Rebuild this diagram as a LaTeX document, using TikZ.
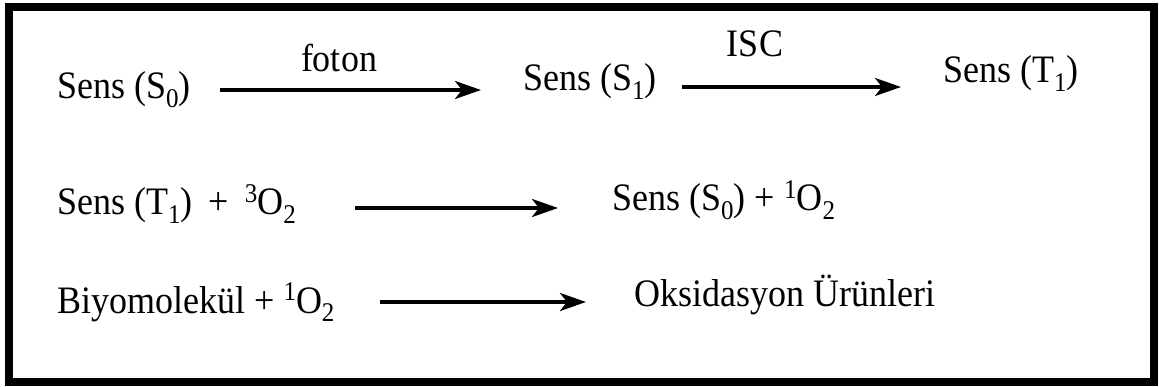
\documentclass[tikz,border=0pt]{standalone}
\usepackage{graphicx}
\usepackage{fontspec}
\setmainfont{Liberation Serif}
\usetikzlibrary{arrows.meta}
\newcommand\sbs[1]{\raisebox{-0.22em}{\fontsize{25}{25}\selectfont #1}}
\newcommand\sps[1]{\raisebox{0.32em}{\fontsize{25}{25}\selectfont #1}}
\newcommand\tx[1]{\scalebox{1}[1.08]{#1}}
\begin{document}
\begin{tikzpicture}[x=1pt,y=-1pt,
  txt/.style={inner sep=0pt,anchor=base west,font=\fontsize{36}{40}\selectfont},
  lbl/.style={inner sep=0pt,anchor=base,font=\fontsize{36}{40}\selectfont},
  arr/.style={line width=3.6pt,-{Stealth[length=26pt,width=18pt,inset=7pt]}}]
\useasboundingbox (0,0) rectangle (1159,387);
\fill[white] (0,0) rectangle (1159,387);
\draw[line width=8pt] (9,7) rectangle (1154,382);
% row 1
\node[txt] (s0) at (57,99) {\tx{Sens (S\sbs{0})}};
\node[txt] (s1) at (523,91) {\tx{Sens (S\sbs{1})}};
\node[txt] (t1) at (943,83) {\tx{Sens (T\sbs{1})}};
\coordinate (a1s) at (220,90);
\coordinate (a1e) at (481,90);
\coordinate (a2s) at (682,87);
\coordinate (a2e) at (901,87);
\draw[arr] (a1s) -- (a1e);
\draw[arr] (a2s) -- (a2e);
\node[lbl] (foton) at (339,72) {\tx{foton}};
\node[lbl] (isc) at (755,57) {\tx{ISC}};
% row 2
\node[txt] (r2l) at (57,215) {\tx{Sens (T\sbs{1})\hspace{7pt} + \hspace{7pt}\sps{3}O\sbs{2}}};
\node[txt] (r2r) at (612,211) {\tx{Sens (S\sbs{0}) + \sps{1}O\sbs{2}}};
\coordinate (a3s) at (355,208);
\coordinate (a3e) at (558,208);
\draw[arr] (a3s) -- (a3e);
% row 3
\node[txt] (r3l) at (57,313) {\tx{Biyomolekül + \sps{1}O\sbs{2}}};
\node[txt] (r3r) at (634,306) {\tx{Oksidasyon Ürünleri}};
\coordinate (a4s) at (380,302);
\coordinate (a4e) at (586,302);
\draw[arr] (a4s) -- (a4e);
\end{tikzpicture}
\end{document}
